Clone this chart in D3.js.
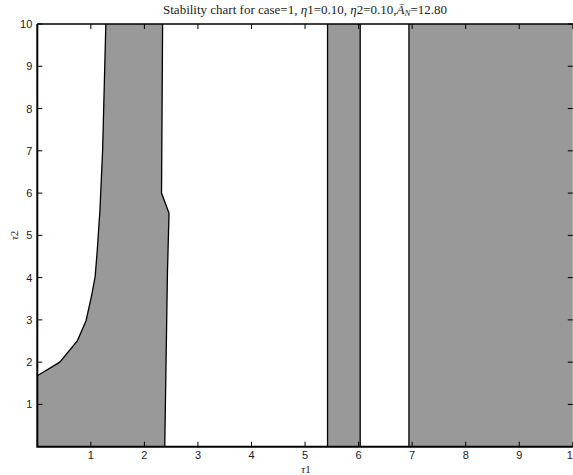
<!DOCTYPE html>
<html>
<head>
<meta charset="utf-8">
<script src="https://cdnjs.cloudflare.com/ajax/libs/d3/7.8.5/d3.min.js"></script>
<style>
  body { margin: 0; background: #fff; }
  svg { display: block; }
</style>
</head>
<body>
<div class="chart"></div>
<script>
// stability boundary, left region (tau1, tau2)
const leftEdge = [[0, 1.68], [0.42, 2.0], [0.75, 2.51], [0.91, 2.98], [1.01, 3.55],
    [1.08, 4.02], [1.12, 4.65], [1.17, 5.6], [1.22, 7.02], [1.28, 10]];
const rightEdge = [[2.34, 10], [2.32, 6.0], [2.46, 5.52], [2.43, 4.1], [2.38, 0]];
// vertical stable strips [tau1 from, tau1 to]
const strips = [[5.42, 6.03], [6.94, 10]];
const xTicks = [1, 2, 3, 4, 5, 6, 7, 8, 9, 10];
const yTicks = [1, 2, 3, 4, 5, 6, 7, 8, 9, 10];

let width = 573;
let height = 475;
const pLeft = 37.3, pRight = 572.8, pTop = 24, pBottom = 446.7;

const svg = d3.select('.chart').append('svg')
    .attr('width', width)
    .attr('height', height);

const x = d3.scaleLinear().domain([0, 10]).range([pLeft, pRight]);
const y = d3.scaleLinear().domain([0, 10]).range([pBottom, pTop]);

const line = d3.line()
    .x(d => x(d[0]))
    .y(d => y(d[1]));

// left region: axis corner, left boundary curve, right boundary
const poly = [[0, 0]].concat(leftEdge, rightEdge);
svg.append('path')
    .attr('d', line(poly) + 'Z')
    .attr('fill', '#999999')
    .attr('stroke', 'none');
svg.append('path')
    .attr('d', line(leftEdge))
    .attr('fill', 'none')
    .attr('stroke', '#000')
    .attr('stroke-width', 1.3);
svg.append('path')
    .attr('d', line(rightEdge))
    .attr('fill', 'none')
    .attr('stroke', '#000')
    .attr('stroke-width', 1.3);

svg.selectAll('rect.strip')
    .data(strips)
    .enter()
    .append('rect')
    .attr('class', 'strip')
    .attr('x', d => x(d[0]))
    .attr('y', y(10))
    .attr('width', d => x(d[1]) - x(d[0]))
    .attr('height', y(0) - y(10))
    .attr('fill', '#999999');

svg.selectAll('line.edge')
    .data(strips.flat().filter(v => v < 10))
    .enter()
    .append('line')
    .attr('class', 'edge')
    .attr('x1', d => x(d)).attr('x2', d => x(d))
    .attr('y1', y(0)).attr('y2', y(10))
    .attr('stroke', '#000')
    .attr('stroke-width', 1.3);

// axes, MATLAB style ticks inside on all four sides
const tickLen = 5;
const gAx = svg.append('g')
    .attr('font-family', '"Liberation Sans", Arial, sans-serif')
    .attr('font-size', 11);

gAx.selectAll('line.xt')
    .data(xTicks)
    .enter()
    .append('line')
    .attr('x1', d => x(d)).attr('x2', d => x(d))
    .attr('y1', pBottom).attr('y2', pBottom - tickLen)
    .attr('stroke', '#000');
gAx.selectAll('line.xtt')
    .data(xTicks)
    .enter()
    .append('line')
    .attr('x1', d => x(d)).attr('x2', d => x(d))
    .attr('y1', pTop).attr('y2', pTop + tickLen)
    .attr('stroke', '#000');
gAx.selectAll('line.yt')
    .data(yTicks)
    .enter()
    .append('line')
    .attr('x1', pLeft).attr('x2', pLeft + tickLen)
    .attr('y1', d => y(d)).attr('y2', d => y(d))
    .attr('stroke', '#000');
gAx.selectAll('line.ytr')
    .data(yTicks)
    .enter()
    .append('line')
    .attr('x1', pRight).attr('x2', pRight - tickLen)
    .attr('y1', d => y(d)).attr('y2', d => y(d))
    .attr('stroke', '#000');

gAx.selectAll('text.xl')
    .data(xTicks)
    .enter()
    .append('text')
    .attr('x', d => x(d))
    .attr('y', pBottom + 12.5)
    .attr('text-anchor', 'middle')
    .attr('fill', '#222')
    .text(d => d);
gAx.selectAll('text.yl')
    .data(yTicks)
    .enter()
    .append('text')
    .attr('x', pLeft - 5)
    .attr('y', d => y(d) + 4)
    .attr('text-anchor', 'end')
    .attr('fill', '#222')
    .text(d => d);

svg.append('path')
    .attr('d', `M${pLeft},${pTop}V${pBottom}H${pRight}`)
    .attr('fill', 'none')
    .attr('stroke', '#000')
    .attr('stroke-width', 2);
svg.append('line')
    .attr('x1', pLeft).attr('x2', pRight)
    .attr('y1', pTop).attr('y2', pTop)
    .attr('stroke', '#000')
    .attr('stroke-width', 1.5);

// title and axis labels
const serif = '"Liberation Serif", "Times New Roman", serif';
const title = svg.append('text')
    .attr('x', (pLeft + pRight) / 2)
    .attr('y', 14)
    .attr('text-anchor', 'middle')
    .attr('font-family', serif)
    .attr('font-size', 13)
    .attr('fill', '#222');
title.append('tspan').text('Stability chart for case=1, ');
title.append('tspan').attr('font-style', 'italic').text('η');
title.append('tspan').text('1=0.10, ');
title.append('tspan').attr('font-style', 'italic').text('η');
title.append('tspan').text('2=0.10,');
title.append('tspan').attr('font-style', 'italic').text('A\u0304');
title.append('tspan').attr('font-style', 'italic').attr('font-size', 9).attr('dy', 2).text('N');
title.append('tspan').attr('dy', -2).text('=12.80');

const xl = svg.append('text')
    .attr('x', 306)
    .attr('y', 473)
    .attr('text-anchor', 'middle')
    .attr('font-family', serif)
    .attr('font-size', 11)
    .attr('fill', '#222');
xl.append('tspan').attr('font-style', 'italic').text('τ');
xl.append('tspan').text('1');

const yl = svg.append('text')
    .attr('transform', `translate(18,${(pTop + pBottom) / 2}) rotate(-90)`)
    .attr('text-anchor', 'middle')
    .attr('font-family', serif)
    .attr('font-size', 11)
    .attr('fill', '#222');
yl.append('tspan').attr('font-style', 'italic').text('τ');
yl.append('tspan').text('2');
</script>
</body>
</html>
